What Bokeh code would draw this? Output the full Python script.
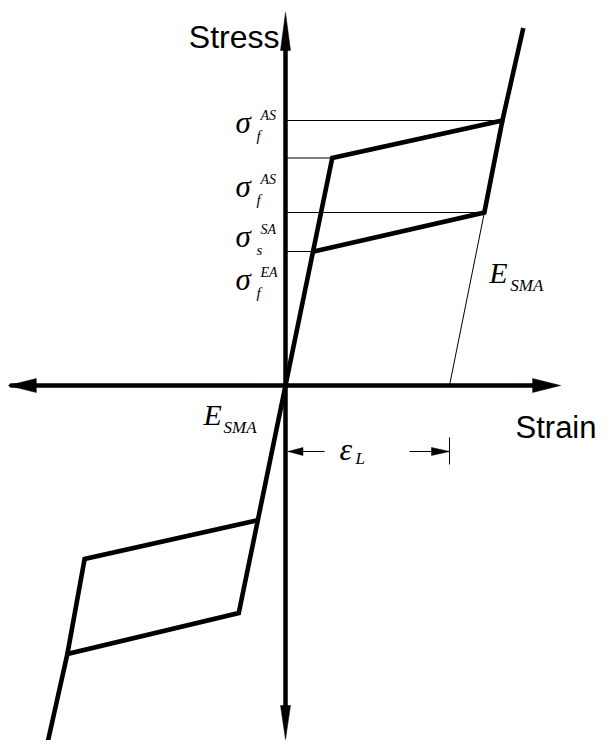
from bokeh.plotting import figure
from bokeh.models import Range1d
from bokeh.core.properties import value
from bokeh.embed import file_html
from bokeh.resources import INLINE

# ---------------- data (strain in %, stress in MPa; schematic) ----------------
tension_strain = [0.0, 1.14, 5.29, 5.80]
tension_stress = [0, 455, 530, 715]
tension_unload_strain = [5.29, 4.85, 0.69]
tension_unload_stress = [530, 346, 268]
compression_strain = [0.0, -1.14, -5.32, -5.81]
compression_stress = [0, -455, -537, -717]
compression_unload_strain = [-5.32, -4.90, -0.71]
compression_unload_stress = [-537, -347, -270]
eps_L = 4.0
strain_axis = [-6.76, 6.71]
stress_axis = [-708, 746]
sigma_sup = ["AS", "AS", "SA", "EA"]
sigma_sub = ["f", "f", "s", "f"]

# ---------------- figure ----------------
W, H = 598, 740
x0, x1 = -6.9512, 7.6341
y0, y1 = -710, 770
PX = W / (x1 - x0)      # px per strain unit
PY = H / (y1 - y0)      # px per stress unit

p = figure(width=W, height=H, x_range=Range1d(x0, x1), y_range=Range1d(y0, y1),
           x_axis_type=None, y_axis_type=None, toolbar_location=None,
           output_backend="svg", min_border=0, outline_line_color=None)
p.grid.visible = False
p.background_fill_color = "white"
p.border_fill_color = "white"


def dx(px):
    return px / PX


def dy(px):
    return px / PY


def head(tx, ty, ux, uy, L, Wd):
    nx, ny = -uy, ux
    bx, by = -L * ux, -L * uy
    xs = [tx, tx + dx(bx + Wd / 2 * nx), tx + dx(bx - Wd / 2 * nx)]
    ys = [ty, ty + dy(by + Wd / 2 * ny), ty + dy(by - Wd / 2 * ny)]
    return xs, ys


def yo(base, size):
    # baseline offset compensation (text renders lower than its nominal baseline)
    if isinstance(base, list):
        return [b - 0.37 * size for b in base]
    return base - 0.37 * size


# ---------------- axes with arrows ----------------
AX_W = 4.5
p.line([strain_axis[0] + dx(3), strain_axis[1] - dx(14)], [0, 0],
       line_width=AX_W, color="black", line_cap="round")
p.line([0, 0], [stress_axis[0] + dy(20), stress_axis[1] - dy(20)],
       line_width=AX_W, color="black", line_cap="butt")
heads = [
    head(strain_axis[1], 0, 1, 0, 28, 14),
    head(strain_axis[0], 0, -1, 0, 28, 14),
    head(0, stress_axis[1], 0, 1, 38, 10),
    head(0, stress_axis[0], 0, -1, 34, 10),
]

# ---------------- thin reference lines ----------------
levels = [tension_stress[2], tension_stress[1], tension_unload_stress[1], tension_unload_stress[2]]
ends = [tension_strain[2], tension_strain[1], tension_unload_strain[1], tension_unload_strain[2]]
for lv, e in zip(levels, ends):
    p.line([0, e], [lv, lv], line_width=1, color="black")
p.line([tension_unload_strain[1], eps_L], [tension_unload_stress[1], 0],
       line_width=1, color="black")

# ---------------- hysteresis loops ----------------
CW = 4.6
for xs, ys in [(tension_strain, tension_stress),
               (tension_unload_strain, tension_unload_stress),
               (compression_strain, compression_stress),
               (compression_unload_strain, compression_unload_stress)]:
    p.line(xs, ys, line_width=CW, color="black", line_join="miter", line_cap="butt")

# ---------------- eps_L dimension ----------------
dim_y = -dy(66)
p.line([dx(2.5), dx(39)], [dim_y, dim_y], line_width=1, color="black")
p.line([eps_L - dx(40), eps_L], [dim_y, dim_y], line_width=1, color="black")
p.line([eps_L, eps_L], [dim_y + dy(14), dim_y - dy(13)], line_width=1, color="black")
heads.append(head(dx(2.5), dim_y, -1, 0, 15, 8))
heads.append(head(eps_L, dim_y, 1, 0, 18, 8))

p.patches([h[0] for h in heads], [h[1] for h in heads], color="black", line_width=0.5)

# ---------------- labels ----------------
SANS = value("Liberation Sans")
SERIF = value("Liberation Serif")

p.text(x=[0], y=[stress_axis[1]], text=["Stress"], x_offset=-6, y_offset=yo(36, 32),
       text_align="right", text_baseline="alphabetic", text_font=SANS,
       text_font_size="32px", text_color="black")
p.text(x=[x1], y=[0], text=["Strain"], x_offset=-2, y_offset=yo(53, 31),
       text_align="right", text_baseline="alphabetic", text_font=SANS,
       text_font_size="31px", text_color="black")

sig_off = [13, 40, 35, 39]
p.text(x=[0] * 4, y=levels, text=["σ"] * 4, x_offset=-50, y_offset=yo(sig_off, 31),
       text_align="left", text_baseline="alphabetic", text_font=SERIF,
       text_font_style="italic", text_font_size="31px", text_color="black")
p.text(x=[0] * 4, y=levels, text=sigma_sup, x_offset=-25,
       y_offset=yo([o - 13 for o in sig_off], 14),
       text_align="left", text_baseline="alphabetic", text_font=SERIF,
       text_font_style="italic", text_font_size="14px", text_color="black")
p.text(x=[0] * 4, y=levels, text=sigma_sub, x_offset=-29,
       y_offset=yo([o + 8 for o in sig_off], 15),
       text_align="left", text_baseline="alphabetic", text_font=SERIF,
       text_font_style="italic", text_font_size="15px", text_color="black")

# E_SMA labels
ex = [0, tension_unload_strain[1]]
ey = [0, tension_unload_stress[1]]
p.text(x=ex, y=ey, text=["E", "E"], x_offset=[-82, 5], y_offset=yo([40, 71], 30),
       text_align="left", text_baseline="alphabetic", text_font=SERIF,
       text_font_style="italic", text_font_size="30px", text_color="black")
p.text(x=ex, y=ey, text=["SMA", "SMA"], x_offset=[-62, 26], y_offset=yo([48, 79], 17),
       text_align="left", text_baseline="alphabetic", text_font=SERIF,
       text_font_style="italic", text_font_size="17px", text_color="black")

# eps_L label
p.text(x=[eps_L / 2], y=[0], text=["ε"], x_offset=-28, y_offset=yo(75, 32),
       text_align="left", text_baseline="alphabetic", text_font=SERIF,
       text_font_style="italic", text_font_size="32px", text_color="black")
p.text(x=[eps_L / 2], y=[0], text=["L"], x_offset=-12, y_offset=yo(79, 17),
       text_align="left", text_baseline="alphabetic", text_font=SERIF,
       text_font_style="italic", text_font_size="17px", text_color="black")

open("out.html", "w").write(file_html(p, INLINE))
